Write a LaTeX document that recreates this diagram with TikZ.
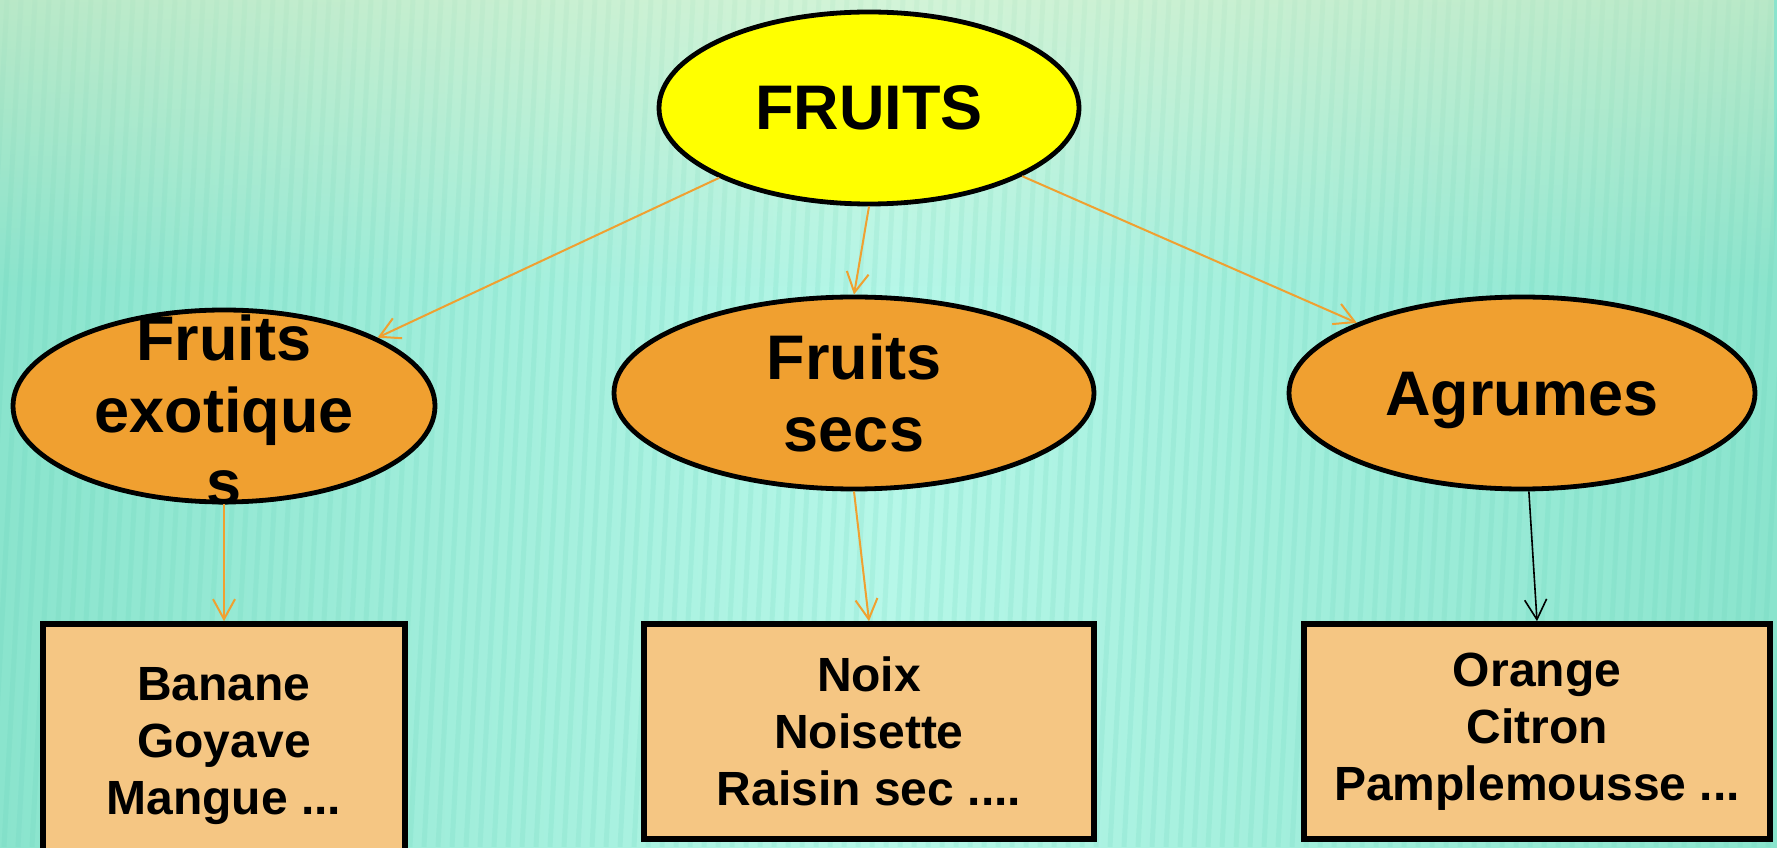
\documentclass[tikz,border=0pt]{standalone}
\usepackage{fontspec}
\setmainfont{Liberation Sans}
\usetikzlibrary{arrows.meta,shapes.geometric,fadings}
\definecolor{bgmid}{HTML}{B6F7E8}
\definecolor{bgedge}{HTML}{8AE4CD}
\definecolor{stripe}{HTML}{5FCFB4}
\definecolor{topyel}{HTML}{FFF0C0}
\definecolor{ellyel}{HTML}{FFFF00}
\definecolor{ellorg}{HTML}{F0A030}
\definecolor{boxorg}{HTML}{F5C683}
\definecolor{arrorg}{HTML}{F0A030}
\tikzset{
  mainell/.style={ellipse, draw=black, line width=2.4pt, fill=ellyel, inner sep=0pt, minimum width=210pt, minimum height=96pt},
  subell/.style={ellipse, draw=black, line width=2.4pt, fill=ellorg, inner sep=0pt, minimum height=96pt},
  elltext/.style={font=\fontsize{31.5}{36}\selectfont\bfseries, align=center, inner sep=0pt},
  listbox/.style={rectangle, draw=black, line width=2.8pt, fill=boxorg, align=center, inner sep=0pt, font=\fontsize{24}{28.5}\selectfont\bfseries},
  orgarrow/.style={draw=arrorg, line width=1pt, -{Straight Barb[length=10pt,width=11pt]}},
  blkarrow/.style={draw=black, line width=0.8pt, -{Straight Barb[length=10pt,width=11pt]}}
}
\begin{document}
\begin{tikzpicture}[x=0.5pt,y=0.5pt]
\useasboundingbox (0,0) rectangle (1777,847);
\clip (0,0) rectangle (1777,847);
% background
\shade[left color=bgedge, right color=bgmid] (0,0) rectangle (889,847);
\shade[left color=bgmid, right color=bgedge] (888,0) rectangle (1777,847);
\foreach \i in {0,...,135} {
  \draw[stripe, opacity=0.15, line width=2.5pt] (\i*14-80,0) -- ++(45,847);
}
\fill[topyel, path fading=south, opacity=0.4] (0,560) rectangle (1777,847);

% nodes
\node[mainell] (F) at (869,739) {};
\node[elltext] (Ft) at (F) {FRUITS};

\node[subell, minimum width=211pt] (E) at (224,441) {};
\node[elltext] (Et) at (224,437) {Fruits\\exotique\\s};

\node[subell, minimum width=240pt] (S) at (854,454) {};
\node[elltext] (St) at (S) {Fruits\\secs};

\node[subell, minimum width=233pt] (A) at (1522,454) {};
\node[elltext] (At) at (1522,446) {Agrumes};

\node[listbox, minimum width=181pt, minimum height=122pt] (B1) at (224,101) {Banane\\Goyave\\Mangue ...};
\node[listbox, minimum width=225pt, minimum height=107.5pt] (B2) at (869,115.5) {Noix\\Noisette\\Raisin sec ....};
\node[listbox, minimum width=233pt, minimum height=107.5pt] (B3) at (1537,115.5) {Orange\\Citron\\Pamplemousse ...};

% connectors
\draw[orgarrow] (F.-155) -- (E.24);
\draw[orgarrow] (F.south) -- (S.north);
\draw[orgarrow] (F.-24.5) -- (A.157.5);
\draw[orgarrow] (E.south) -- (B1.north);
\draw[orgarrow] (S.south) -- (B2.north);
\draw[blkarrow] (A.-86) -- (B3.north);
\end{tikzpicture}
\end{document}
